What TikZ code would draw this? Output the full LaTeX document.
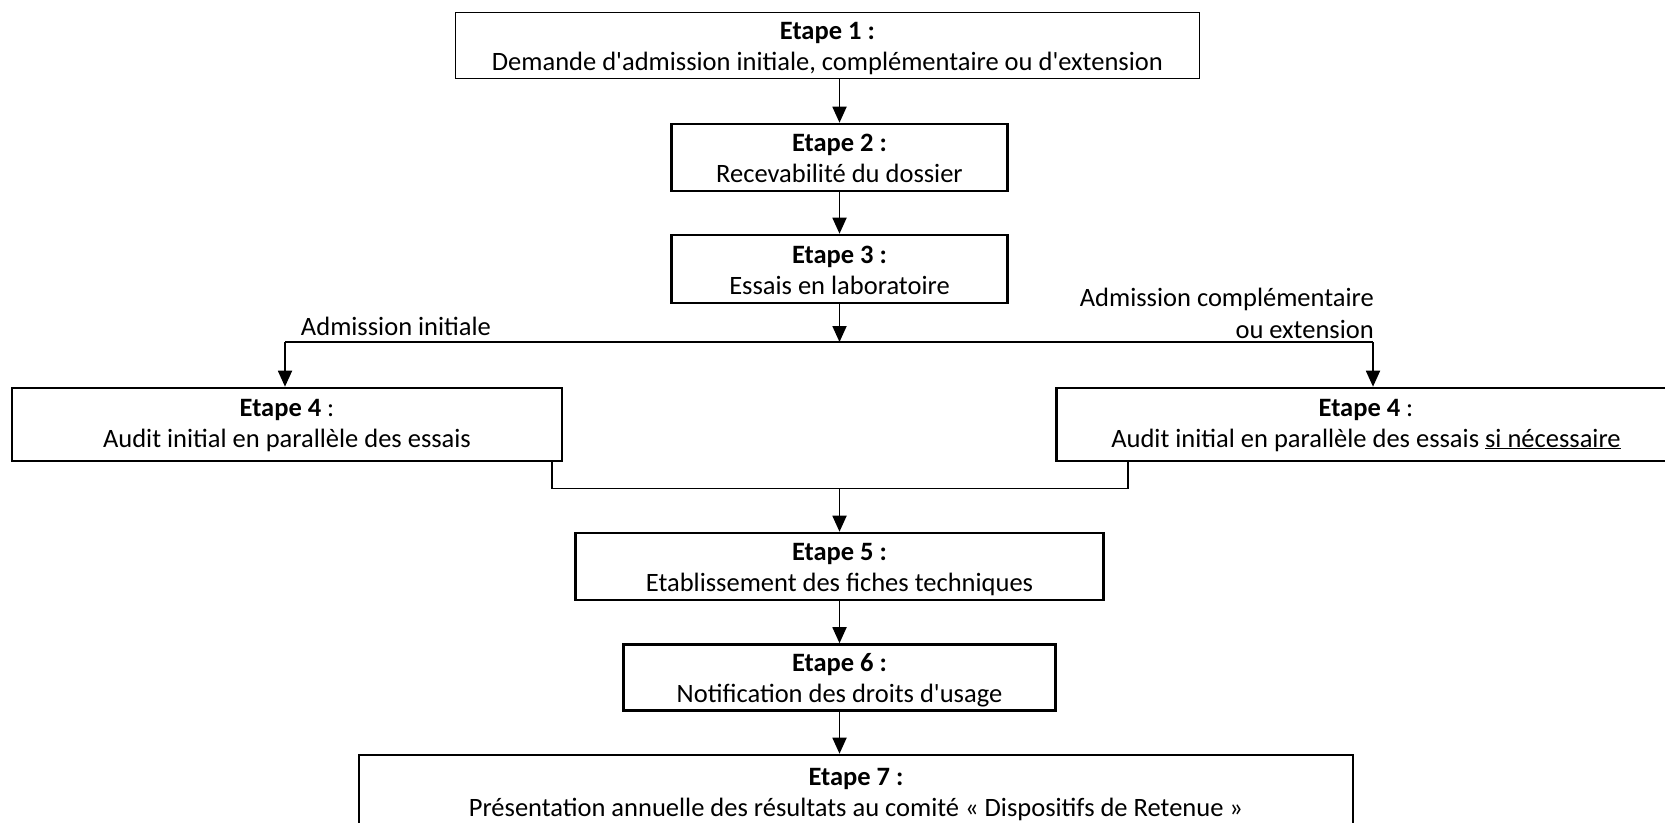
\documentclass[tikz,border=0pt]{standalone}
\usepackage{fontspec}
\setmainfont{Carlito}
\usetikzlibrary{arrows.meta}
\newcommand\ap{\textquotesingle}
\newcommand\tsr{\rule{0pt}{25pt}}
\newcommand\tsrb{\rule{0pt}{20pt}}
\newcommand\bsr{\rule[-6pt]{0pt}{6pt}}
\begin{document}
\begin{tikzpicture}[x=1pt,y=-1pt,
  stepbox/.style={draw, line width=2.6pt, inner sep=0pt, align=center,
    font=\fontsize{26.5}{31}\selectfont},
  thinbox/.style={stepbox, line width=1.3pt},
  conn/.style={line width=1.8pt},
  arr/.style={conn, -{Triangle[length=16pt,width=14pt]}},
  lbl/.style={inner sep=0pt, font=\fontsize{26.5}{32}\selectfont}]
\useasboundingbox (0,0) rectangle (1665,822);
\node[thinbox, minimum width=743.8pt, minimum height=66pt] (b1) at (827.4,45.7)
  {\tsr\textbf{Etape 1 :}\\Demande d\ap admission initiale, complémentaire ou d\ap extension\bsr};
\node[stepbox, minimum width=336pt, minimum height=67pt] (b2) at (839.5,157.5)
  {\tsr\textbf{Etape 2 :}\\Recevabilité du dossier\bsr};
\node[stepbox, minimum width=336pt, minimum height=68pt] (b3) at (839.5,269)
  {\tsr\textbf{Etape 3 :}\\Essais en laboratoire\bsr};
\node[stepbox, minimum width=550pt, minimum height=73pt] (b4l) at (287,424.5)
  {\tsrb\textbf{Etape 4} :\\Audit initial en parallèle des essais\bsr};
\node[stepbox, minimum width=619pt, minimum height=73pt] (b4r) at (1366,424.5)
  {\tsrb\textbf{Etape 4} :\\Audit initial en parallèle des essais \underline{si nécessaire}\bsr};
\node[stepbox, minimum width=527.7pt, minimum height=67pt] (b5) at (839.5,566.5)
  {\tsr\textbf{Etape 5 :}\\Etablissement des fiches techniques\bsr};
\node[stepbox, minimum width=432pt, minimum height=66pt] (b6) at (839.5,677.5)
  {\tsr\textbf{Etape 6 :}\\Notification des droits d\ap usage\bsr};
\node[stepbox, minimum width=994pt, minimum height=72pt] (b7) at (856,791)
  {\tsr\textbf{Etape 7 :}\\Présentation annuelle des résultats au comité « Dispositifs de Retenue »\bsr};

\coordinate (ax) at (839.5,0);
\coordinate (sp) at (839.5,342);
\coordinate (bl) at (285,342);
\coordinate (br) at (1373,342);
\coordinate (ml) at (552,488.5);
\coordinate (mr) at (1128,488.5);
\coordinate (mg) at (839.5,488.5);

\draw[arr] (b1.south -| ax) -- (b2.north -| ax);
\draw[arr] (b2.south -| ax) -- (b3.north -| ax);
\draw[arr] (b3.south -| ax) -- (sp);
\draw[conn] (bl) -- (br);
\draw[arr] (bl) -- (b4l.north -| bl);
\draw[arr] (br) -- (b4r.north -| br);
\draw[conn] (b4l.south -| ml) -- (ml) -- (mr) -- (b4r.south -| mr);
\draw[arr] (mg) -- (b5.north -| mg);
\draw[arr] (b5.south -| ax) -- (b6.north -| ax);
\draw[arr] (b6.south -| ax) -- (b7.north -| ax);

\node[lbl] (la) at (396,326) {Admission initiale};
\node[lbl, align=right, anchor=east] (lb) at (1374,313) {Admission complémentaire\\ou extension};
\end{tikzpicture}
\end{document}
